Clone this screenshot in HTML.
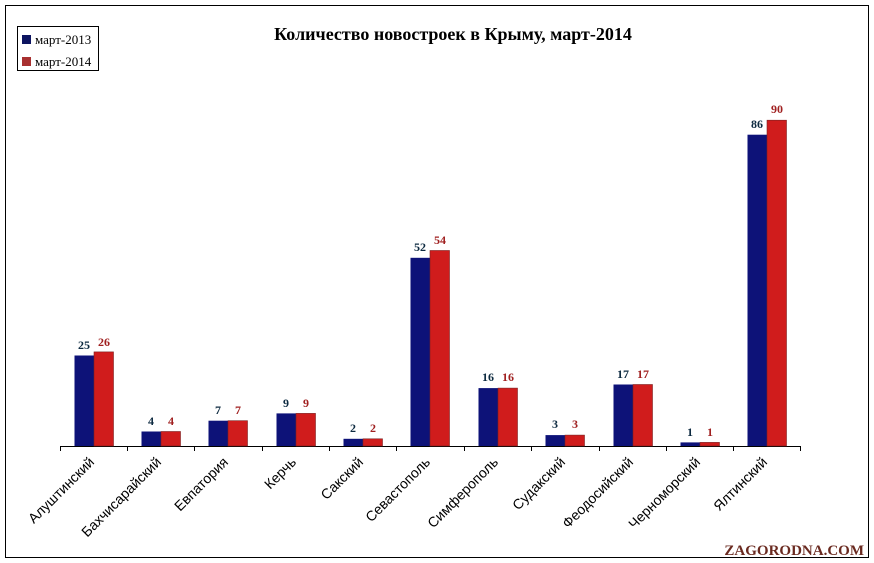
<!DOCTYPE html>
<html><head><meta charset="utf-8"><style>body{margin:0;background:#fff}svg{display:block}</style></head>
<body>
<svg width="874" height="563" viewBox="0 0 874 563" xmlns="http://www.w3.org/2000/svg">
<rect x="0" y="0" width="874" height="563" fill="#fff"/>
<rect x="5.5" y="5.5" width="863" height="552" fill="none" stroke="#000" stroke-width="1"/>
<text x="453" y="40" text-anchor="middle" font-family="Liberation Serif, serif" font-weight="bold" font-size="18">Количество новостроек  в Крыму, март-2014</text>
<rect x="17.5" y="26.5" width="81" height="44" fill="#fff" stroke="#000"/>
<rect x="22" y="35" width="9" height="9" fill="#0d1460"/>
<rect x="22" y="57" width="9" height="9" fill="#a83030"/>
<text x="35" y="44" font-family="Liberation Serif, serif" font-size="13">март-2013</text>
<text x="35" y="66" font-family="Liberation Serif, serif" font-size="13">март-2014</text>

<g stroke="#000">
<line x1="60" y1="446.5" x2="801" y2="446.5"/>
<line x1="60.5" y1="446" x2="60.5" y2="451"/><line x1="127.5" y1="446" x2="127.5" y2="451"/><line x1="194.5" y1="446" x2="194.5" y2="451"/><line x1="262.5" y1="446" x2="262.5" y2="451"/><line x1="329.5" y1="446" x2="329.5" y2="451"/><line x1="396.5" y1="446" x2="396.5" y2="451"/><line x1="464.5" y1="446" x2="464.5" y2="451"/><line x1="531.5" y1="446" x2="531.5" y2="451"/><line x1="599.5" y1="446" x2="599.5" y2="451"/><line x1="666.5" y1="446" x2="666.5" y2="451"/><line x1="733.5" y1="446" x2="733.5" y2="451"/><line x1="800.5" y1="446" x2="800.5" y2="451"/>
</g>

<g font-family="Liberation Serif, serif" font-weight="bold" font-size="12" text-anchor="middle">
<g transform="translate(94,0)"><rect x="-19.5" y="355.5" width="19.5" height="90.5" fill="#0d1278"/><rect x="0" y="351.9" width="19.5" height="94.1" fill="#d01c1c" stroke="#7a2020" stroke-width="0.6"/><text x="-10" y="349" fill="#0d2a40">25</text><text x="10" y="346" fill="#a02020">26</text></g>
<g transform="translate(161,0)"><rect x="-19.5" y="431.5" width="19.5" height="14.5" fill="#0d1278"/><rect x="0" y="431.5" width="19.5" height="14.5" fill="#d01c1c" stroke="#7a2020" stroke-width="0.6"/><text x="-10" y="425" fill="#0d2a40">4</text><text x="10" y="425" fill="#a02020">4</text></g>
<g transform="translate(228,0)"><rect x="-19.5" y="420.7" width="19.5" height="25.3" fill="#0d1278"/><rect x="0" y="420.7" width="19.5" height="25.3" fill="#d01c1c" stroke="#7a2020" stroke-width="0.6"/><text x="-10" y="414" fill="#0d2a40">7</text><text x="10" y="414" fill="#a02020">7</text></g>
<g transform="translate(296,0)"><rect x="-19.5" y="413.4" width="19.5" height="32.6" fill="#0d1278"/><rect x="0" y="413.4" width="19.5" height="32.6" fill="#d01c1c" stroke="#7a2020" stroke-width="0.6"/><text x="-10" y="407" fill="#0d2a40">9</text><text x="10" y="407" fill="#a02020">9</text></g>
<g transform="translate(363,0)"><rect x="-19.5" y="438.8" width="19.5" height="7.2" fill="#0d1278"/><rect x="0" y="438.8" width="19.5" height="7.2" fill="#d01c1c" stroke="#7a2020" stroke-width="0.6"/><text x="-10" y="432" fill="#0d2a40">2</text><text x="10" y="432" fill="#a02020">2</text></g>
<g transform="translate(430,0)"><rect x="-19.5" y="257.8" width="19.5" height="188.2" fill="#0d1278"/><rect x="0" y="250.5" width="19.5" height="195.5" fill="#d01c1c" stroke="#7a2020" stroke-width="0.6"/><text x="-10" y="251" fill="#0d2a40">52</text><text x="10" y="244" fill="#a02020">54</text></g>
<g transform="translate(498,0)"><rect x="-19.5" y="388.1" width="19.5" height="57.9" fill="#0d1278"/><rect x="0" y="388.1" width="19.5" height="57.9" fill="#d01c1c" stroke="#7a2020" stroke-width="0.6"/><text x="-10" y="381" fill="#0d2a40">16</text><text x="10" y="381" fill="#a02020">16</text></g>
<g transform="translate(565,0)"><rect x="-19.5" y="435.1" width="19.5" height="10.9" fill="#0d1278"/><rect x="0" y="435.1" width="19.5" height="10.9" fill="#d01c1c" stroke="#7a2020" stroke-width="0.6"/><text x="-10" y="428" fill="#0d2a40">3</text><text x="10" y="428" fill="#a02020">3</text></g>
<g transform="translate(633,0)"><rect x="-19.5" y="384.5" width="19.5" height="61.5" fill="#0d1278"/><rect x="0" y="384.5" width="19.5" height="61.5" fill="#d01c1c" stroke="#7a2020" stroke-width="0.6"/><text x="-10" y="378" fill="#0d2a40">17</text><text x="10" y="378" fill="#a02020">17</text></g>
<g transform="translate(700,0)"><rect x="-19.5" y="442.4" width="19.5" height="3.6" fill="#0d1278"/><rect x="0" y="442.4" width="19.5" height="3.6" fill="#d01c1c" stroke="#7a2020" stroke-width="0.6"/><text x="-10" y="436" fill="#0d2a40">1</text><text x="10" y="436" fill="#a02020">1</text></g>
<g transform="translate(767,0)"><rect x="-19.5" y="134.7" width="19.5" height="311.3" fill="#0d1278"/><rect x="0" y="120.2" width="19.5" height="325.8" fill="#d01c1c" stroke="#7a2020" stroke-width="0.6"/><text x="-10" y="128" fill="#0d2a40">86</text><text x="10" y="113" fill="#a02020">90</text></g>
</g>

<g font-family="Liberation Sans, sans-serif" font-size="14" text-anchor="end">
<text transform="translate(95,463) rotate(-45)">Алуштинский</text>
<text transform="translate(162,463) rotate(-45)">Бахчисарайский</text>
<text transform="translate(229,463) rotate(-45)">Евпатория</text>
<text transform="translate(297,463) rotate(-45)">Керчь</text>
<text transform="translate(364,463) rotate(-45)">Сакский</text>
<text transform="translate(431,463) rotate(-45)">Севастополь</text>
<text transform="translate(499,463) rotate(-45)">Симферополь</text>
<text transform="translate(566,463) rotate(-45)">Судакский</text>
<text transform="translate(634,463) rotate(-45)">Феодосийский</text>
<text transform="translate(701,463) rotate(-45)">Черноморский</text>
<text transform="translate(768,463) rotate(-45)">Ялтинский</text>
</g>
<text x="864" y="555" text-anchor="end" font-family="Liberation Serif, serif" font-weight="bold" font-size="15" fill="#6a2a20">ZAGORODNA.COM</text>
</svg>
</body></html>
